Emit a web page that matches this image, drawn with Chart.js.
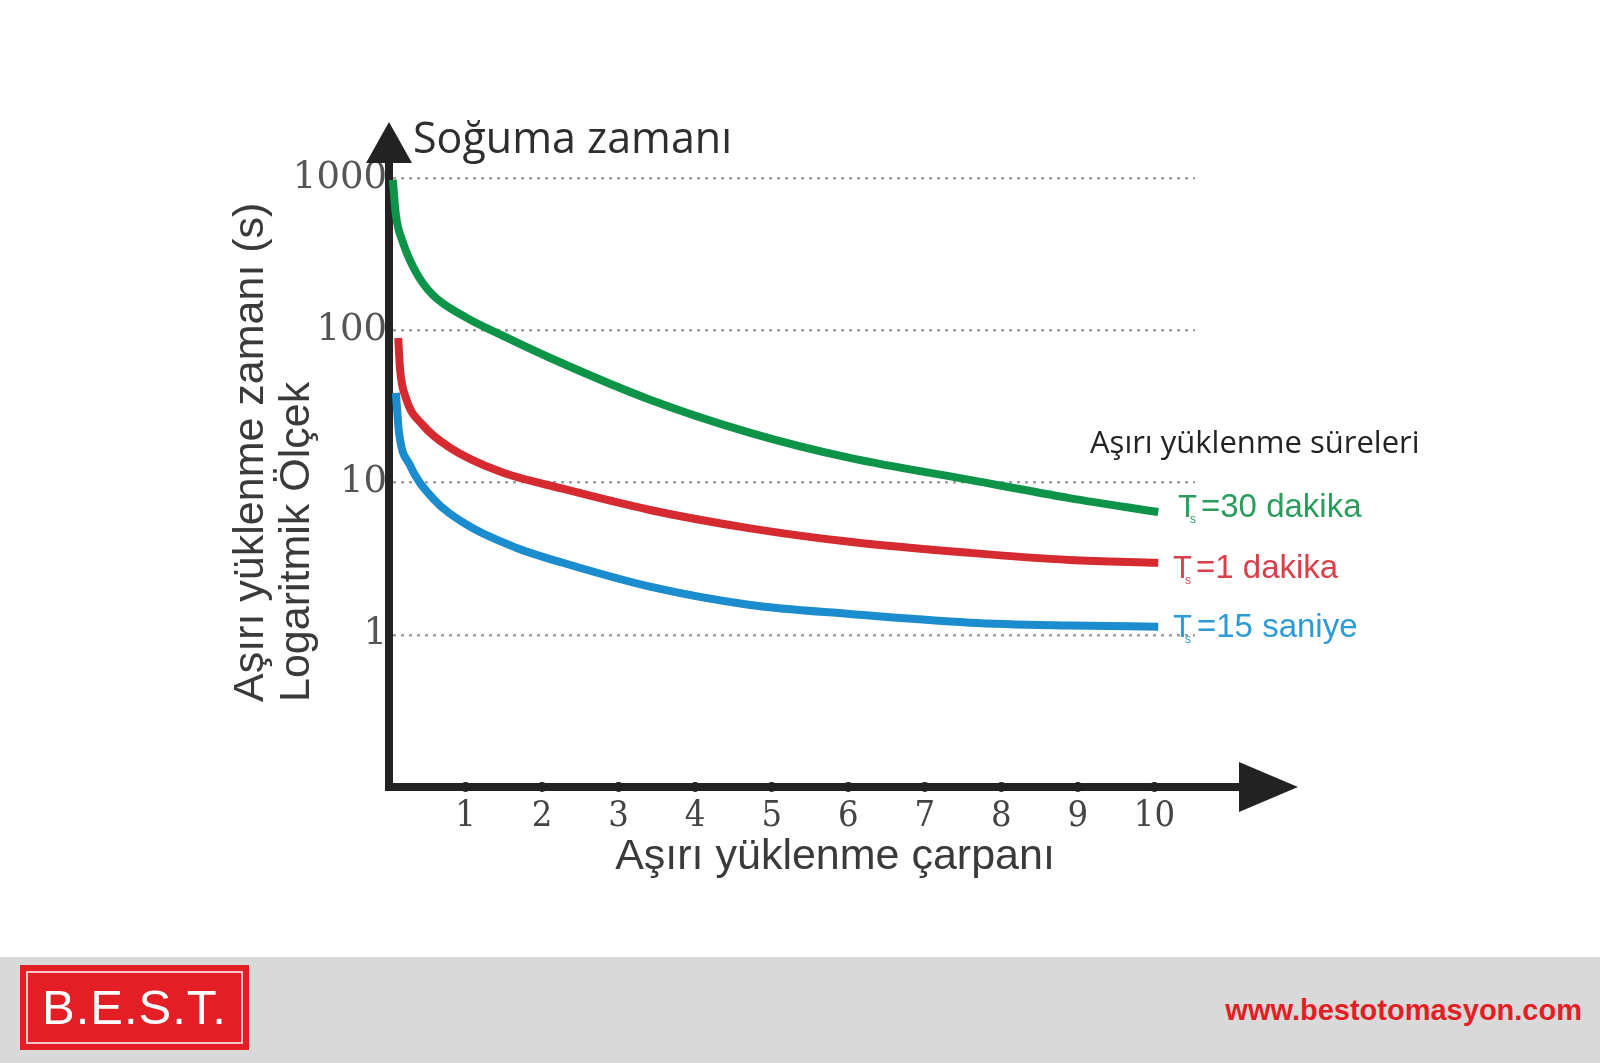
<!DOCTYPE html>
<html lang="tr">
<head>
<meta charset="utf-8">
<title>Aşırı yüklenme zamanı</title>
<script src="https://cdn.jsdelivr.net/npm/chart.js@4.4.1/dist/chart.umd.min.js"></script>
<style>
  html, body { margin: 0; padding: 0; background: #fff; }
  #wrap { position: relative; width: 1600px; height: 1063px; overflow: hidden; }
  #chart { position: absolute; left: 0; top: 0; }
  #footer { position: absolute; left: 0; top: 957px; width: 1600px; height: 106px; background: #d9d9d9; }
  #logo { position: absolute; left: 20px; top: 8px; width: 229px; height: 85px; background: #e31e24; }
  #logo .inner { position: absolute; left: 6px; top: 6px; right: 6px; bottom: 6px; border: 2px solid #f6c6c8; }
  #logo .txt { position: absolute; left: 0; top: 18px; width: 100%; text-align: center;
    font: 49px/49px "Liberation Sans", Arial, sans-serif; color: #fff; letter-spacing: 1px; }
  #url { position: absolute; right: 18px; top: 38px; font: bold 29px/30px "Liberation Sans", Arial, sans-serif; color: #e31e24; }
</style>
</head>
<body>
<div id="wrap">
  <canvas id="chart" width="1600" height="957"></canvas>
  <div id="footer">
    <div id="logo"><div class="inner"></div><div class="txt">B.E.S.T.</div></div>
    <div id="url">www.bestotomasyon.com</div>
  </div>
</div>
<script>
// degerler (x: asiri yuklenme carpani, y: saniye, log eksen)
var greenX = [0.05, 0.09, 0.18, 0.35, 0.57, 1.01, 1.41, 2.1, 3.41, 4.72, 6.02, 7.59, 8.89, 10.05];
var greenY = [972, 572, 380, 242, 171, 121, 96, 66, 35, 21.2, 14.5, 10.4, 7.9, 6.4];

var redX = [0.12, 0.145, 0.22, 0.44, 0.8, 1.45, 2.27, 3.41, 4.72, 6.02, 7.59, 8.89, 10.05];
var redY = [89, 55, 36, 23.9, 16.9, 11.8, 9.1, 6.6, 5.0, 4.08, 3.45, 3.1, 2.97];

var blueX = [0.09, 0.13, 0.27, 0.57, 1.01, 1.66, 2.27, 3.41, 4.72, 6.02, 7.59, 8.89, 10.05];
var blueY = [38.8, 21.5, 13.1, 7.9, 5.3, 3.73, 2.97, 2.07, 1.57, 1.37, 1.2, 1.15, 1.13];

var xTicks = [1, 2, 3, 4, 5, 6, 7, 8, 9, 10];
var yTicks = [1, 10, 100, 1000];

var seriesNames = ["=30 dakika", "=1 dakika", "=15 saniye"];
var seriesColors = ["#0e9448", "#d42a30", "#1b8cce"];
var labelColors = ["#2a9d5c", "#d9404a", "#2d9bd8"];

function toPoints(xs, ys) {
  return xs.map(function (x, i) { return { x: x, y: ys[i] }; });
}

var AXIS = "#222";

// eksen oklari ve yazilar
var decor = {
  id: "decor",
  afterDraw: function (chart) {
    var c = chart.ctx;
    var area = chart.chartArea;
    var xs = chart.scales.x;
    var ax = area.left, ay = area.bottom;

    c.save();
    c.fillStyle = AXIS;
    c.strokeStyle = AXIS;
    c.lineWidth = 8;
    // y ekseni uzantisi + ok
    c.beginPath(); c.moveTo(ax, area.top + 2); c.lineTo(ax, 160); c.stroke();
    c.beginPath(); c.moveTo(ax, 122); c.lineTo(ax - 23, 163); c.lineTo(ax + 23, 163); c.closePath(); c.fill();
    // x ekseni uzantisi + ok
    c.beginPath(); c.moveTo(area.right - 2, ay); c.lineTo(1242, ay); c.stroke();
    c.beginPath(); c.moveTo(1298, ay); c.lineTo(1239, ay - 25); c.lineTo(1239, ay + 25); c.closePath(); c.fill();
    // tik noktalari
    xTicks.forEach(function (v) {
      c.beginPath(); c.arc(xs.getPixelForValue(v), ay, 5, 0, Math.PI * 2); c.fill();
    });

    // basliklar
    c.fillStyle = "#2e2e2e";
    c.textBaseline = "alphabetic";
    c.textAlign = "left";
    c.font = '43px "Open Sans", sans-serif';
    c.fillText("Soğuma zamanı", 413, 153);

    c.fillStyle = "#3a3a3a";
    c.font = '43px "Liberation Sans", Arial, sans-serif';
    c.textAlign = "center";
    c.fillText("Aşırı yüklenme çarpanı", 835, 869);

    c.textAlign = "left";
    c.save();
    c.translate(263, 702);
    c.rotate(-Math.PI / 2);
    c.fillText("Aşırı yüklenme zamanı (s)", 0, 0);
    c.restore();
    c.save();
    c.translate(309, 702);
    c.rotate(-Math.PI / 2);
    c.fillText("Logaritmik Ölçek", 0, 0);
    c.restore();

    c.fillStyle = "#222";
    c.font = '31px "Open Sans", sans-serif';
    c.fillText("Aşırı yüklenme süreleri", 1090, 453);

    // seri etiketleri: T, alt indis s, deger
    var lab = [[1178, 517, 1201], [1173, 578, 1196], [1173, 637, 1197]];
    lab.forEach(function (p, i) {
      c.fillStyle = labelColors[i];
      c.font = '31px "Liberation Sans", Arial, sans-serif';
      c.fillText("T", p[0], p[1]);
      c.font = '12px "Liberation Sans", Arial, sans-serif';
      c.fillText("s", p[0] + 12, p[1] + 6);
      c.font = '33px "Liberation Sans", Arial, sans-serif';
      c.fillText(seriesNames[i], p[2], p[1]);
    });
    c.restore();
  }
};

var ctx = document.getElementById("chart");
var chart = new Chart(ctx, {
  type: "line",
  data: {
    datasets: [
      { label: "30 dakika", data: toPoints(greenX, greenY), borderColor: seriesColors[0] },
      { label: "1 dakika", data: toPoints(redX, redY), borderColor: seriesColors[1] },
      { label: "15 saniye", data: toPoints(blueX, blueY), borderColor: seriesColors[2] }
    ]
  },
  options: {
    responsive: false,
    animation: false,
    devicePixelRatio: 1,
    layout: { padding: { left: 0, top: 178, right: 405, bottom: 0 } },
    elements: {
      line: { borderWidth: 8, fill: false, cubicInterpolationMode: "monotone", borderCapStyle: "butt" },
      point: { radius: 0, hoverRadius: 0 }
    },
    datasets: { line: { clip: false } },
    plugins: { legend: { display: false }, tooltip: { enabled: false }, title: { display: false } },
    scales: {
      x: {
        type: "linear",
        min: 0,
        max: 10.53,
        afterBuildTicks: function (s) { s.ticks = xTicks.map(function (v) { return { value: v }; }); },
        afterFit: function (s) { s.height = 170; },
        grid: { display: false, drawTicks: false },
        border: { display: true, color: AXIS, width: 8 },
        ticks: {
          padding: 8,
          color: "#444",
          font: { family: '"DejaVu Serif Condensed", "DejaVu Serif", serif', size: 36 },
          callback: function (v) { return String(v); }
        }
      },
      y: {
        type: "logarithmic",
        min: 0.1,
        max: 1000,
        afterBuildTicks: function (s) { s.ticks = yTicks.map(function (v) { return { value: v }; }); },
        afterFit: function (s) { s.width = 389; },
        grid: { display: true, drawTicks: false, color: "#a0a0a0", lineWidth: 2.5 },
        border: { display: true, color: AXIS, width: 8, dash: [3, 5] },
        ticks: {
          padding: 2,
          color: "#555",
          font: { family: '"DejaVu Serif", serif', size: 37 },
          callback: function (v) { return String(v); }
        }
      }
    }
  },
  plugins: [decor]
});
</script>
</body>
</html>
